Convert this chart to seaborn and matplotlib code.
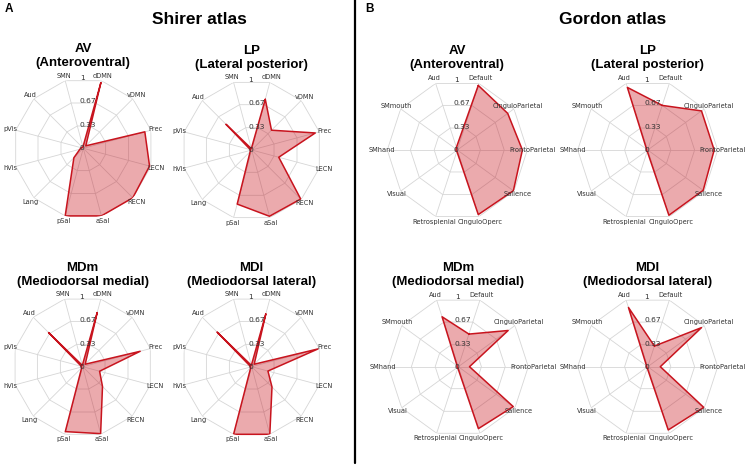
import numpy as np
import pandas as pd
import matplotlib
matplotlib.use("Agg")
import matplotlib.pyplot as plt
from matplotlib.lines import Line2D
import seaborn as sns

# ---------------- data ----------------
shirer_labels = ["dDMN", "vDMN", "Prec", "LECN", "RECN", "aSal", "pSal",
                 "Lang", "hVis", "pVis", "Aud", "SMN"]
shirer_AV = [0.97, 0.05, 0.91, 0.98, 1.00, 1.00, 1.00, 0.19, 0.05, 0.03, 0.02, 0.02]
shirer_LP = [0.75, 0.40, 0.94, 0.40, 0.99, 0.98, 0.80, 0.03, 0.02, 0.02, 0.52, 0.02]
shirer_MDm = [0.80, 0.05, 0.85, 0.25, 0.40, 0.99, 0.96, 0.02, 0.02, 0.02, 0.69, 0.02]
shirer_MDl = [0.78, 0.05, 0.98, 0.24, 0.41, 1.00, 1.00, 0.02, 0.02, 0.02, 0.70, 0.02]

gordon_labels = ["Default", "CinguloParietal", "FrontoParietal", "Salience",
                 "CinguloOperc", "Retrosplenial", "Visual", "SMhand", "SMmouth", "Aud"]
gordon_AV = [0.97, 0.89, 0.93, 0.99, 0.97, 0.02, 0.02, 0.02, 0.02, 0.04]
gordon_LP = [0.67, 0.95, 0.95, 0.98, 0.98, 0.02, 0.02, 0.02, 0.02, 0.94]
gordon_MDm = [0.49, 0.88, 0.16, 0.97, 0.93, 0.02, 0.02, 0.02, 0.02, 0.75]
gordon_MDl = [0.31, 0.95, 0.18, 0.99, 0.95, 0.02, 0.02, 0.02, 0.02, 0.89]

titles = ["AV\n(Anteroventral)", "LP\n(Lateral posterior)",
          "MDm\n(Mediodorsal medial)", "MDl\n(Mediodorsal lateral)"]
ring_values = [0.33, 0.67, 1.0]
ring_labels = ["0", "0.33", "0.67", "1"]

# ---------------- style ----------------
sns.set_theme(style="white")
plt.rcParams["font.family"] = ["DejaVu Sans"]

W, H = 747, 466
R = 70
LINE = "#c8141e"
GRID = "#d6d6d6"
TITLE_FONT = ["Liberation Sans", "DejaVu Sans"]

fig = plt.figure(figsize=(W / 100, H / 100), dpi=100)


def radar(cx, cy, labels, values, title):
    n = len(labels)
    angles = (np.arange(n) + 0.5) * 2 * np.pi / n
    ax = fig.add_axes([(cx - R) / W, 1 - (cy + R) / H, 2 * R / W, 2 * R / H],
                      projection="polar")
    ax.set_theta_zero_location("N")
    ax.set_theta_direction(-1)
    ax.grid(False)
    ax.spines["polar"].set_visible(False)
    ax.set_facecolor("none")

    closed = np.append(angles, angles[0])
    # polygon rings
    for rv in ring_values:
        ax.plot(closed, [rv] * len(closed), color=GRID, lw=0.6, zorder=1)
    # spokes
    for a in angles:
        ax.plot([a, a], [0, 1], color=GRID, lw=0.6, zorder=1)

    vals = list(values) + [values[0]]
    df = pd.DataFrame({"theta": closed, "r": vals})
    ax.fill(df["theta"], df["r"], color=LINE, alpha=0.36, lw=0, zorder=2)
    sns.lineplot(data=df, x="theta", y="r", sort=False, estimator=None,
                 ax=ax, color=LINE, lw=1.1, zorder=3)
    ax.set_xlabel("")
    ax.set_ylabel("")
    ax.set_ylim(0, 1)
    ax.set_xticks([])
    ax.set_yticks([])

    # category labels just outside the outer ring
    for a, lab in zip(angles, labels):
        ax.text(a, 1.075, lab, ha="center", va="center", fontsize=4.8,
                color="#333333", zorder=4)

    for rv, lab in zip([0.0] + ring_values, ring_labels):
        ax.annotate(lab, xy=(0, rv), xytext=(-2.5, 0), textcoords="offset points",
                    ha="left", va="center", fontsize=5.4, color="#333333", zorder=4)

    ax.text(0.5, 1.157, title, transform=ax.transAxes, ha="center", va="center",
            fontsize=9.5, fontweight="bold", family=TITLE_FONT, linespacing=1.2,
            color="black")
    return ax


centers_left = [(83.3, 148.3), (251.7, 150), (82.7, 366.7), (251.7, 366.7)]
centers_right = [(457.3, 150), (647.7, 150), (458.3, 366.7), (647.7, 366.7)]

for (cx, cy), vals, t in zip(centers_left, [shirer_AV, shirer_LP, shirer_MDm, shirer_MDl], titles):
    radar(cx, cy, shirer_labels, vals, t)
for (cx, cy), vals, t in zip(centers_right, [gordon_AV, gordon_LP, gordon_MDm, gordon_MDl], titles):
    radar(cx, cy, gordon_labels, vals, t)

# panel headers
fig.text(5 / W, 1 - 3 / H, "A", ha="left", va="top", fontsize=8.5,
         fontweight="bold", family=TITLE_FONT, color="black")
fig.text(365 / W, 1 - 3 / H, "B", ha="left", va="top", fontsize=8.5,
         fontweight="bold", family=TITLE_FONT, color="black")
fig.text(199 / W, 1 - 19 / H, "Shirer atlas", ha="center", va="center",
         fontsize=12.5, fontweight="bold", family=TITLE_FONT, color="black")
fig.text(613 / W, 1 - 19 / H, "Gordon atlas", ha="center", va="center",
         fontsize=12.5, fontweight="bold", family=TITLE_FONT, color="black")

fig.add_artist(Line2D([355 / W, 355 / W], [1 - 463 / H, 1.0],
                      transform=fig.transFigure, color="black", lw=1.6))

fig.savefig("out.png", dpi=100)
